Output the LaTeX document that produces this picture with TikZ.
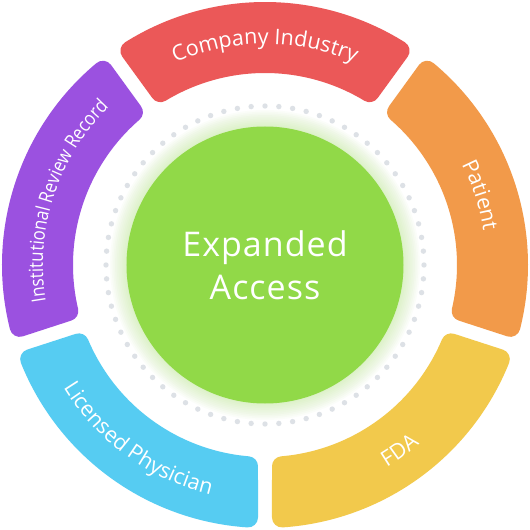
\documentclass[tikz,border=0pt]{standalone}
\usepackage{fontspec}
\usetikzlibrary{decorations.text}
\newfontfamily\ringfont{Open Sans}
\newfontfamily\condfont[FakeStretch=0.86]{Open Sans}
\newfontfamily\centerfont[LetterSpace=3]{Open Sans}
\newcommand\rf{\ringfont\fontsize{21.5}{25}\selectfont}
\newcommand\cf{\condfont\fontsize{19.5}{23}\selectfont}
\definecolor{cred}{HTML}{EB5858}
\definecolor{corange}{HTML}{F29A4A}
\definecolor{cyellow}{HTML}{F2C94C}
\definecolor{cblue}{HTML}{56CCF2}
\definecolor{cpurple}{HTML}{9B51E0}
\definecolor{cgreen}{HTML}{91D948}
\definecolor{cdot}{HTML}{DDE1E6}
\begin{document}
\begin{tikzpicture}[x=1pt,y=1pt,
  seg/.style={fill=#1, draw=#1, line width=20pt, line join=round},
  lbl/.style={decorate, decoration={text along path, text align=center, text color=white, text={#1}}}]
\useasboundingbox (-265,-265) rectangle (265,265);
\fill[white] (-265,-265) rectangle (265,265);
% ring segments
\foreach \c/\col in {90/cred, 18/corange, -54/cyellow, -126/cblue, 162/cpurple}{
  \pgfmathsetmacro\aa{\c+36-3.85}
  \pgfmathsetmacro\ab{\c-36+3.85}
  \pgfmathsetmacro\ac{\c-36+4.83}
  \pgfmathsetmacro\ad{\c+36-4.83}
  \path[seg=\col] (\aa:253) arc[start angle=\aa, end angle=\ab, radius=253]
     -- (\ac:202) arc[start angle=\ac, end angle=\ad, radius=202] -- cycle;
}
% labels
\path[lbl={|\rf|Company Industry}] (135:221) arc[start angle=135, end angle=45, radius=221];
\path[lbl={|\rf|Patient}] (63:221) arc[start angle=63, end angle=-27, radius=221];
\path[lbl={|\cf|Institutional Review Record}] (207:222) arc[start angle=207, end angle=117, radius=222];
\path[lbl={|\rf|FDA}] (-99:236) arc[start angle=-99, end angle=-9, radius=236];
\path[lbl={|\rf|Licensed Physician}] (-171:236) arc[start angle=-171, end angle=-81, radius=236];
% halo
\foreach \k in {1,...,10}{
  \fill[cgreen, opacity=0.03] (0,0) circle[radius=138+\k*1.7];
}
% dotted circle
\foreach \i in {0,...,71}{
  \fill[cdot] (\i*5:159) circle[radius=2.7];
}
% centre
\node[circle, fill=cgreen, minimum size=277pt, inner sep=0pt, text=white,
  align=center, font=\centerfont\fontsize{34}{43}\selectfont] (core) at (0,0) {Expanded\\Access};
\end{tikzpicture}
\end{document}
